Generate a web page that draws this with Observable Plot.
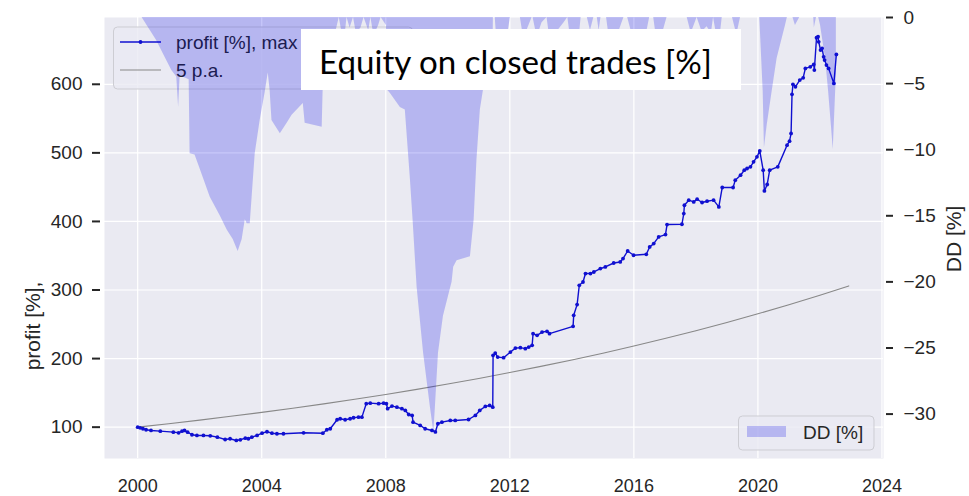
<!DOCTYPE html>
<html><head><meta charset="utf-8">
<script src="https://cdn.jsdelivr.net/npm/d3@7"></script>
<script src="https://cdn.jsdelivr.net/npm/@observablehq/plot@0.6"></script>
<style>
html,body{margin:0;padding:0;background:#fff;}
#chart{position:relative;width:969px;height:496px;overflow:hidden;}
#chart svg{position:absolute;left:0;top:0;}
</style></head>
<body><div id="chart"></div>
<script>
// ---- data ----
const profitYears = [2000.00,2000.08,2000.17,2000.27,2000.43,2000.73,2001.15,2001.32,2001.43,2001.51,2001.61,2001.75,2001.91,2002.12,2002.34,2002.57,2002.82,2002.98,2003.18,2003.31,2003.47,2003.57,2003.68,2003.85,2004.01,2004.17,2004.33,2004.49,2004.70,2005.35,2005.97,2006.10,2006.21,2006.43,2006.53,2006.69,2006.85,2006.96,2007.12,2007.23,2007.37,2007.50,2007.77,2007.93,2008.02,2008.06,2008.20,2008.36,2008.52,2008.63,2008.74,2008.85,2008.88,2009.11,2009.27,2009.49,2009.60,2009.68,2009.81,2010.08,2010.24,2010.67,2010.89,2011.03,2011.21,2011.35,2011.45,2011.46,2011.53,2011.61,2011.80,2012.02,2012.18,2012.34,2012.50,2012.61,2012.72,2012.75,2012.88,2013.04,2013.20,2013.28,2014.04,2014.06,2014.17,2014.24,2014.36,2014.44,2014.60,2014.71,2014.92,2015.08,2015.35,2015.56,2015.65,2015.80,2015.99,2016.40,2016.51,2016.64,2016.80,2017.02,2017.07,2017.55,2017.61,2017.63,2017.77,2017.93,2018.04,2018.20,2018.36,2018.57,2018.74,2018.85,2019.20,2019.27,2019.44,2019.56,2019.65,2019.76,2019.86,2019.97,2020.06,2020.17,2020.21,2020.30,2020.38,2020.64,2020.94,2021.02,2021.07,2021.10,2021.13,2021.21,2021.35,2021.46,2021.53,2021.69,2021.80,2021.82,2021.89,2021.94,2021.96,2022.02,2022.07,2022.12,2022.15,2022.21,2022.28,2022.45,2022.53];
const profitValues = [100.0,99.1,97.7,96.2,95.2,94.2,92.7,91.8,94.2,95.2,92.7,88.9,87.9,87.9,87.4,85.4,82.0,83.1,80.6,81.6,83.9,83.1,85.4,87.9,91.2,93.3,91.2,90.4,90.4,91.8,91.2,96.2,97.7,110.8,112.3,110.8,112.3,113.7,114.6,114.6,134.2,135.0,134.2,135.0,134.2,126.9,130.7,129.2,126.9,124.4,118.5,117.1,107.3,102.5,97.7,95.2,93.0,105.0,107.3,109.8,109.8,111.2,117.1,124.4,130.2,131.7,129.2,204.7,208.0,202.2,201.3,209.5,215.3,215.9,214.5,216.8,219.3,236.4,233.9,238.7,239.7,236.4,247.0,263.1,278.7,306.9,311.7,324.0,324.0,326.3,331.2,333.6,339.4,340.9,345.8,356.9,350.7,352.1,362.8,367.7,377.4,380.9,395.5,395.9,411.5,423.6,431.0,428.5,432.4,427.6,429.5,431.0,421.2,449.5,449.5,460.2,467.4,474.7,477.2,479.6,486.9,494.2,502.9,474.7,444.5,453.9,474.7,479.6,511.2,517.1,528.3,585.3,599.9,596.4,606.1,609.5,623.2,625.5,629.0,620.7,667.9,669.3,662.0,649.9,652.4,640.1,635.3,628.0,623.2,601.3,643.6];

const ddYears = [2000.00,2000.14,2000.60,2001.10,2001.26,2001.32,2001.37,2001.66,2001.69,2001.85,2002.02,2002.34,2002.66,2002.89,2003.08,2003.24,2003.37,2003.47,2003.53,2003.63,2003.79,2003.95,2004.11,2004.21,2004.27,2004.33,2004.60,2004.82,2004.98,2005.34,2005.40,2005.95,2005.98,2006.21,2006.40,2006.50,2006.60,2006.69,2006.75,2006.85,2006.96,2007.05,2007.20,2007.30,2007.45,2007.52,2007.62,2007.77,2007.85,2008.02,2008.06,2008.15,2008.47,2008.63,2008.79,2008.88,2009.01,2009.22,2009.44,2009.55,2009.60,2009.70,2009.86,2010.14,2010.19,2010.30,2010.73,2010.85,2010.94,2011.05,2011.15,2011.31,2011.45,2011.47,2011.53,2011.61,2011.80,2012.02,2012.34,2012.42,2012.55,2012.72,2012.75,2012.88,2013.04,2013.20,2013.28,2013.55,2013.75,2013.87,2013.95,2014.25,2014.30,2014.50,2014.60,2014.71,2014.82,2014.88,2014.94,2015.12,2015.22,2015.50,2015.68,2015.80,2015.99,2016.40,2016.51,2016.64,2016.72,2016.95,2017.07,2017.72,2017.85,2018.04,2018.20,2018.36,2018.50,2018.57,2018.74,2018.85,2019.18,2019.32,2019.44,2020.06,2020.17,2020.21,2020.30,2020.46,2020.62,2020.89,2020.95,2021.13,2021.21,2021.35,2021.80,2021.82,2021.89,2021.96,2022.02,2022.18,2022.28,2022.37,2022.43,2022.53];
const ddValues = [0,0,-1.7,-4.0,-4.5,-6.8,-4.4,-4.7,-10.3,-10.4,-11.5,-13.6,-15.0,-16.1,-16.8,-17.7,-16.8,-15.3,-15.6,-15.6,-10.3,-7.8,-5.7,-4.2,-5.5,-7.8,-8.8,-8.0,-7.4,-6.5,-8.0,-8.3,-5.5,-3.2,-1.0,0,-1.3,-1.3,0,-0.8,0,-1.2,-0.8,0,-1.0,0,-1.4,-0.6,0,-0.6,-5.5,-5.75,-6.8,-7.0,-12.1,-15.3,-20.4,-25.4,-29.5,-31.4,-29.5,-25.4,-22.6,-20.0,-18.9,-18.4,-18.1,-15.3,-10.8,-7.0,-5.5,-2.9,-4.3,0,0,-2.8,-3.2,0,0,-1.2,-1.0,0,0,-1.5,-0.4,0,-1.4,-1.0,-0.4,0,-1.4,-1.2,0,0,-1.0,0,0,-1.0,0,0,-1.8,-1.2,0,0,-1.7,-1.3,0,0,-1.4,-1.0,0,0,-1.2,0,-1.1,-0.7,-1.2,0,-2.3,0,0,-1.3,0,0,-5.6,-9.9,-8.15,-5.6,-3.1,-0.6,0,0,-0.6,0,0,-0.8,0,0,-0.6,-3.1,-5.6,-8.2,-10.0,-4.3];

const paYears  = [2000,2001,2002,2003,2004,2005,2006,2007,2008,2009,2010,2011,2012,2013,2014,2015,2016,2017,2018,2019,2020,2021,2022,2022.93];
const paValues = [100,105,110.3,115.8,121.6,127.6,134,140.7,147.7,155.1,162.9,171,179.6,188.6,198,207.9,218.3,229.2,240.7,252.7,265.3,278.6,292.5,306];

const xTicks  = [2000,2004,2008,2012,2016,2020,2024];
const yTicks  = [100,200,300,400,500,600];
const ddTicks = [0,-5,-10,-15,-20,-25,-30];

const xDomain  = [1998.93, 2024.05];
const yDomain  = [54.3, 697.4];
const ddDomain = [-33.36, 0];

// ---- build ----
const profit = profitYears.map((t,i)=>({t, v: profitValues[i]}));
const dd     = ddYears.map((t,i)=>({t, d: ddValues[i]}));
const pa     = paYears.map((t,i)=>({t, v: paValues[i]}));

const W=969, H=496;
const font = "'Liberation Sans', Arial, Helvetica, sans-serif";
const ink = "#262626";
const blue = "#1010d0";
const common = {width:W, height:H, marginLeft:104, marginRight:86, marginTop:17, marginBottom:38};
const chart = document.getElementById("chart");

const plot1 = Plot.plot({
  ...common,
  style:{fontFamily:font, fontSize:"19px", color:ink, background:"transparent", overflow:"visible"},
  x:{domain:xDomain},
  y:{domain:yDomain},
  marks:[
    Plot.frame({fill:"#eaeaf2", stroke:"none"}),
    Plot.gridX(xTicks, {stroke:"#ffffff", strokeOpacity:1, strokeWidth:1.2}),
    Plot.gridY(yTicks, {stroke:"#ffffff", strokeOpacity:1, strokeWidth:1.2}),
    Plot.line(pa, {x:"t", y:"v", stroke:"#888888", strokeWidth:1.1, curve:"monotone-x"}),
    Plot.line(profit, {x:"t", y:"v", stroke:blue, strokeWidth:1.4}),
    Plot.dot(profit, {x:"t", y:"v", r:1.9, fill:blue, stroke:"none"}),
    Plot.axisX(xTicks, {tickSize:0, tickPadding:21, fontSize:18, tickFormat:d=>String(d), label:null}),
    Plot.axisY(yTicks, {anchor:"left", tickSize:8, tickPadding:10, dx:-4, strokeWidth:2, label:null})
  ]
});
chart.appendChild(plot1);

const ns = "http://www.w3.org/2000/svg";
function el(tag, attrs, parent, text){
  const e = document.createElementNS(ns, tag);
  for (const k in attrs) e.setAttribute(k, attrs[k]);
  if (text != null) e.textContent = text;
  parent.appendChild(e);
  return e;
}
function layer(){
  return el("svg", {width:W, height:H, viewBox:`0 0 ${W} ${H}`, "font-family":font}, chart);
}

// left legend (belongs to the profit axes, under the DD area)
const legendLayer = layer();
el("rect", {x:113.5, y:27, width:299, height:62, rx:4, fill:"rgba(234,234,242,0.8)", stroke:"#cdcdd3", "stroke-width":1}, legendLayer);
el("line", {x1:120, x2:161, y1:42, y2:42, stroke:blue, "stroke-width":1.4}, legendLayer);
el("circle", {cx:140.5, cy:42, r:1.9, fill:blue}, legendLayer);
el("text", {x:176, y:42, "font-size":19, fill:ink, "dominant-baseline":"central"}, legendLayer, "profit [%], max");
el("line", {x1:120, x2:161, y1:70, y2:70, stroke:"#888888", "stroke-width":1.1}, legendLayer);
el("text", {x:176, y:70, "font-size":19, fill:ink, "dominant-baseline":"central"}, legendLayer, "5 p.a.");

// drawdown axes (twin)
const plot2 = Plot.plot({
  ...common,
  style:{fontFamily:font, fontSize:"19px", color:ink, background:"transparent", overflow:"visible"},
  x:{domain:xDomain, axis:null},
  y:{domain:ddDomain},
  marks:[
    Plot.areaY(dd, {x:"t", y:"d", fill:"rgb(0,0,230)", fillOpacity:0.22}),
    Plot.axisY(ddTicks, {anchor:"right", tickSize:7, tickPadding:11, dx:2, strokeWidth:2, label:null,
      tickFormat:d => d < 0 ? "\u2212" + Math.abs(d) : "0"})
  ]
});
chart.appendChild(plot2);

// top layer: DD legend, axis labels, title box
const overLayer = layer();
el("rect", {x:738.5, y:416, width:135.5, height:34, rx:4, fill:"rgba(234,234,242,0.8)", stroke:"#cdcdd3", "stroke-width":1}, overLayer);
el("rect", {x:747, y:426, width:39, height:11, fill:"rgb(0,0,230)", "fill-opacity":0.22}, overLayer);
el("text", {x:803, y:432, "font-size":19, fill:ink, "dominant-baseline":"central"}, overLayer, "DD [%]");

el("text", {transform:"translate(40,326) rotate(-90)", "text-anchor":"middle", "font-size":21, fill:ink}, overLayer, "profit [%],");
el("text", {transform:"translate(961,239) rotate(-90)", "text-anchor":"middle", "font-size":21, fill:ink}, overLayer, "DD [%]");

el("rect", {x:301, y:29, width:440, height:61, fill:"#ffffff"}, overLayer);
const title = el("text", {x:319, y:74, "font-family":"Lato, 'Open Sans', sans-serif", "font-size":34, fill:"#000"}, overLayer, "Equity on closed trades [%]");
const len = title.getComputedTextLength();
if (len > 0) title.setAttribute("font-size", (34 * 393 / len).toFixed(2));
</script>
</body></html>
